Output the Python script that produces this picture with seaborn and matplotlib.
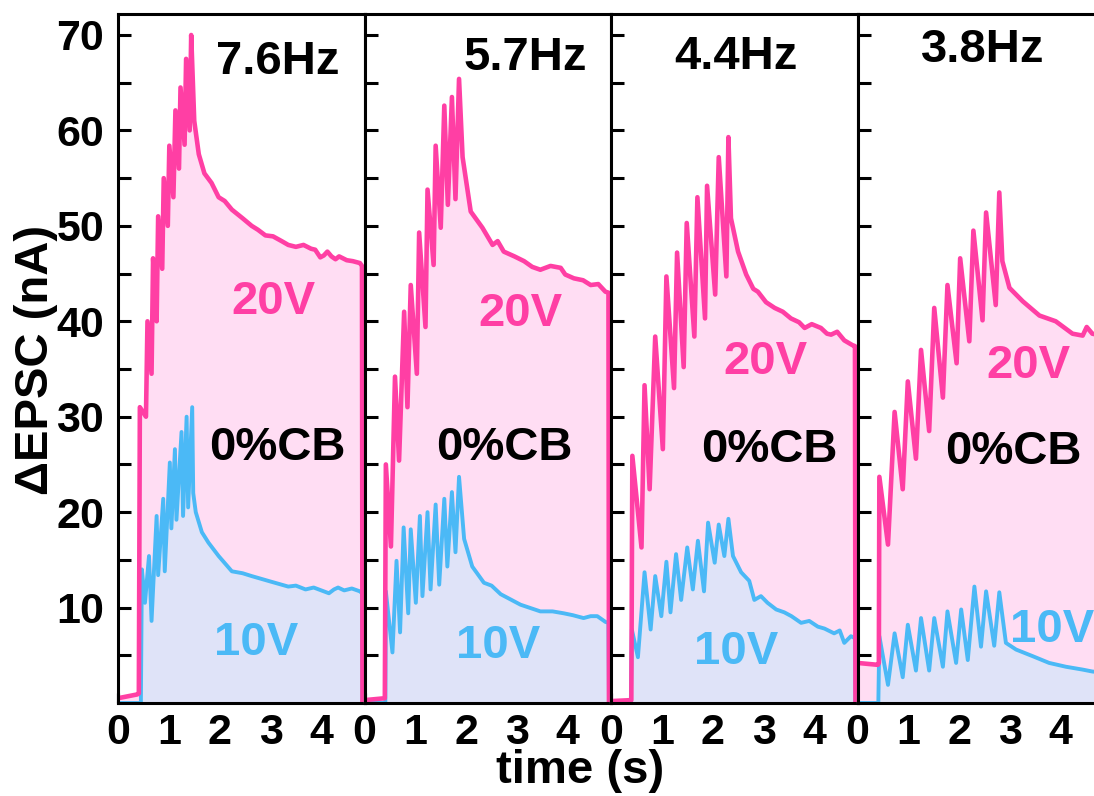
import matplotlib
matplotlib.use("Agg")
import matplotlib.pyplot as plt
import numpy as np
import pandas as pd
import seaborn as sns

# ---------------------------------------------------------------- data
freq_labels = ["7.6Hz", "5.7Hz", "4.4Hz", "3.8Hz"]
x_ticks = [0, 1, 2, 3, 4]
y_ticks = [10, 20, 30, 40, 50, 60, 70]

# 20 V gate pulses (nA vs s)
t_20v_76 = [0, 0.38, 0.41, 0.43, 0.55, 0.58, 0.66, 0.69, 0.76, 0.79, 0.87, 0.90, 0.98, 1.01,
            1.09, 1.13, 1.20, 1.23, 1.31, 1.34, 1.41, 1.44, 1.50, 1.59, 1.70, 1.84, 1.98,
            2.10, 2.24, 2.45, 2.63, 2.75, 2.90, 3.05, 3.22, 3.35, 3.50, 3.65, 3.80, 3.88,
            3.98, 4.05, 4.12, 4.20, 4.28, 4.35, 4.50, 4.62, 4.76, 4.80, 4.81]
i_20v_76 = [0.5, 0.9, 1.0, 31.0, 30.0, 40.0, 34.5, 46.6, 40.0, 51.0, 45.5, 55.0, 50.0, 58.4,
            53.0, 62.1, 56.0, 64.5, 58.5, 67.5, 60.0, 70.0, 61.0, 57.5, 55.5, 54.5, 53.0,
            52.6, 51.7, 50.8, 50.0, 49.6, 49.0, 48.9, 48.4, 48.0, 47.8, 48.0, 47.6, 47.5,
            46.7, 46.9, 47.3, 46.8, 46.5, 46.8, 46.4, 46.3, 46.1, 45.8, 0]

t_20v_57 = [0, 0.40, 0.42, 0.52, 0.60, 0.68, 0.78, 0.845, 0.91, 1.03, 1.075, 1.20, 1.24,
            1.36, 1.40, 1.50, 1.57, 1.64, 1.72, 1.79, 1.86, 1.93, 2.09, 2.32, 2.52, 2.62,
            2.74, 2.95, 3.14, 3.30, 3.46, 3.66, 3.86, 3.95, 4.12, 4.30, 4.45, 4.60, 4.74,
            4.80, 4.81]
i_20v_57 = [0.3, 0.5, 25.0, 16.4, 34.2, 25.4, 41.0, 31.0, 43.8, 34.5, 49.3, 39.4, 53.8,
            45.9, 58.4, 49.8, 62.6, 52.2, 63.5, 52.8, 65.4, 57.2, 51.5, 49.8, 48.0, 48.4,
            47.3, 46.8, 46.3, 45.7, 45.4, 45.8, 45.6, 44.9, 44.5, 44.3, 43.8, 43.9, 43.1,
            43.0, 0]

t_20v_44 = [0, 0.40, 0.42, 0.60, 0.66, 0.76, 0.87, 1.02, 1.09, 1.24, 1.30, 1.43, 1.49,
            1.64, 1.70, 1.85, 1.89, 2.05, 2.12, 2.27, 2.31, 2.36, 2.50, 2.66, 2.80, 2.89,
            3.05, 3.22, 3.38, 3.54, 3.70, 3.81, 3.95, 4.13, 4.25, 4.33, 4.45, 4.59, 4.75,
            4.80, 4.81]
i_20v_44 = [0.2, 0.3, 25.9, 16.3, 33.3, 22.4, 38.4, 26.6, 44.7, 33.0, 47.2, 35.2, 50.3,
            38.4, 53.0, 40.3, 54.2, 42.8, 57.2, 44.7, 59.3, 50.8, 47.3, 44.9, 43.4, 43.1,
            42.0, 41.4, 41.0, 40.3, 39.9, 39.3, 39.7, 39.3, 38.7, 38.6, 38.9, 38.0, 37.5,
            37.4, 0]

t_20v_38 = [0, 0.40, 0.42, 0.43, 0.60, 0.73, 0.89, 0.99, 1.15, 1.25, 1.41, 1.51, 1.68,
            1.77, 1.95, 2.02, 2.20, 2.28, 2.46, 2.53, 2.72, 2.79, 2.85, 2.99, 3.25, 3.58,
            3.90, 4.23, 4.43, 4.51, 4.62, 4.80, 4.81]
i_20v_38 = [4.2, 4.0, 4.2, 23.7, 16.6, 30.5, 22.4, 33.7, 25.6, 37.0, 28.5, 41.4, 32.0,
            43.8, 35.6, 46.6, 37.9, 49.5, 40.1, 51.4, 41.7, 53.5, 46.3, 43.5, 42.1, 40.6,
            40.0, 38.7, 38.5, 39.4, 38.7, 38.5, 0]

# 10 V gate pulses (nA vs s)
t_10v_76 = [0, 0.45, 0.47, 0.53, 0.61, 0.66, 0.76, 0.79, 0.89, 0.92, 1.02, 1.05, 1.12,
            1.15, 1.25, 1.28, 1.35, 1.38, 1.46, 1.48, 1.53, 1.65, 1.78, 1.98, 2.24, 2.45,
            2.63, 3.02, 3.35, 3.50, 3.69, 3.85, 4.00, 4.15, 4.25, 4.33, 4.45, 4.60, 4.76,
            4.80, 4.81]
i_10v_76 = [0, 0, 14.0, 10.5, 15.4, 8.6, 19.6, 13.4, 21.4, 13.8, 25.2, 18.3, 26.6,
            19.2, 28.4, 19.6, 30.0, 20.5, 31.0, 22.0, 20.0, 17.9, 16.8, 15.4, 13.8, 13.6,
            13.3, 12.7, 12.2, 12.3, 11.9, 12.1, 11.8, 11.5, 11.9, 12.1, 11.8, 12.0, 11.7,
            11.5, 0]

t_10v_57 = [0, 0.41, 0.42, 0.55, 0.63, 0.70, 0.77, 0.86, 0.91, 1.01, 1.09, 1.14, 1.24,
            1.30, 1.40, 1.47, 1.57, 1.63, 1.72, 1.79, 1.86, 1.96, 2.12, 2.35, 2.50, 2.68,
            3.07, 3.46, 3.70, 3.92, 4.10, 4.31, 4.45, 4.58, 4.74, 4.80, 4.81]
i_10v_57 = [0, 0, 11.7, 5.3, 14.9, 7.4, 18.4, 9.4, 18.2, 10.5, 19.6, 11.2, 20.0,
            11.9, 20.8, 12.4, 21.4, 14.3, 22.1, 15.8, 23.7, 17.2, 14.3, 12.6, 12.3, 11.4,
            10.3, 9.6, 9.6, 9.4, 9.2, 8.9, 9.1, 9.1, 8.5, 8.4, 0]

t_10v_44 = [0, 0.39, 0.41, 0.53, 0.66, 0.78, 0.87, 0.99, 1.09, 1.17, 1.28, 1.38, 1.50,
            1.61, 1.71, 1.83, 1.91, 2.04, 2.12, 2.23, 2.31, 2.40, 2.56, 2.72, 2.82, 2.95,
            3.08, 3.25, 3.41, 3.55, 3.74, 3.90, 4.07, 4.20, 4.39, 4.50, 4.59, 4.72, 4.80,
            4.81]
i_10v_44 = [0, 0, 7.7, 4.8, 13.7, 7.7, 13.3, 9.1, 14.8, 9.5, 15.6, 10.8, 16.3,
            11.9, 17.0, 11.7, 18.9, 14.7, 18.7, 15.4, 19.3, 15.4, 13.7, 12.8, 10.8, 11.2,
            10.5, 9.8, 9.5, 9.1, 8.4, 8.6, 8.0, 7.8, 7.3, 7.6, 6.3, 7.0, 6.8, 0]

t_10v_38 = [0, 0.41, 0.43, 0.60, 0.73, 0.89, 0.99, 1.15, 1.25, 1.41, 1.51, 1.68, 1.77,
            1.94, 2.04, 2.17, 2.30, 2.43, 2.53, 2.69, 2.79, 2.92, 3.12, 3.45, 3.77, 4.10,
            4.43, 4.62, 4.80, 4.81]
i_10v_38 = [0, 0, 7.0, 1.9, 7.3, 2.7, 8.2, 3.4, 8.9, 3.4, 8.9, 3.8, 9.6,
            4.2, 9.8, 4.5, 12.2, 5.9, 11.7, 6.0, 11.6, 6.3, 5.6, 4.9, 4.2, 3.8,
            3.5, 3.3, 3.2, 0]

t_20v = [t_20v_76, t_20v_57, t_20v_44, t_20v_38]
i_20v = [i_20v_76, i_20v_57, i_20v_44, i_20v_38]
t_10v = [t_10v_76, t_10v_57, t_10v_44, t_10v_38]
i_10v = [i_10v_76, i_10v_57, i_10v_44, i_10v_38]

# ---------------------------------------------------------------- style
sns.set_theme(style="ticks")
plt.rcParams["font.family"] = ["Liberation Sans", "DejaVu Sans"]
plt.rcParams["font.weight"] = "bold"
plt.rcParams["axes.linewidth"] = 2.2
plt.rcParams["text.color"] = "black"
plt.rcParams["axes.labelcolor"] = "black"
plt.rcParams["xtick.color"] = "black"
plt.rcParams["ytick.color"] = "black"

PINK = "#FF3FA4"
PINK_FILL = "#FFDDF3"
BLUE = "#4BB9F6"
BLUE_FILL = "#DFE3F8"
TICK_GRAY = "#9B9BAA"

TICK_FS = 31
NOTE_FS = 34
LABEL_FS = 34

W, H = 1094, 796
fig = plt.figure(figsize=(W / 100, H / 100), dpi=100)

panel_left = [118, 364.5, 611, 857.5]
panel_w = 246.5
bottom_px, top_px = 703, 14

# text placement inside each panel (axes fraction)
freq_pos = [(0.648, 0.930), (0.652, 0.936), (0.506, 0.938), (0.506, 0.948)]
v20_pos = [(0.632, 0.582), (0.632, 0.565), (0.628, 0.495), (0.692, 0.489)]
cb_pos = [(0.648, 0.370), (0.567, 0.370), (0.644, 0.367), (0.632, 0.364)]
v10_pos = [(0.559, 0.087), (0.543, 0.083), (0.506, 0.074), (0.789, 0.106)]

for k in range(4):
    ax = fig.add_axes([panel_left[k] / W, 1 - bottom_px / H,
                       panel_w / W, (bottom_px - top_px) / H])
    ax.set_facecolor("white")

    ax.fill_between(t_20v[k], i_20v[k], 0, color=PINK_FILL, lw=0, zorder=1)
    ax.fill_between(t_10v[k], i_10v[k], 0, color=BLUE_FILL, lw=0, zorder=1.1)

    df20 = pd.DataFrame({"time": t_20v[k], "EPSC": i_20v[k]})
    df10 = pd.DataFrame({"time": t_10v[k], "EPSC": i_10v[k]})
    sns.lineplot(data=df20, x="time", y="EPSC", ax=ax, color=PINK, lw=3.3,
                 estimator=None, sort=False, zorder=2.2)
    sns.lineplot(data=df10, x="time", y="EPSC", ax=ax, color=BLUE, lw=2.8,
                 estimator=None, sort=False, zorder=2.1)

    ax.set_xlim(0, 4.85)
    ax.set_ylim(0, 72.2)
    ax.set_xlabel("")
    ax.set_ylabel("")

    ax.set_xticks(x_ticks)
    ax.set_xticklabels([str(v) for v in x_ticks], fontsize=TICK_FS, fontweight="bold",
                       color="black")
    ax.set_xticks([v + 0.5 for v in x_ticks], minor=True)
    ax.tick_params(axis="x", which="major", direction="in", length=7, width=2.4,
                   color=TICK_GRAY, labelcolor="black", pad=7)
    ax.tick_params(axis="x", which="minor", direction="in", length=3, width=2.4,
                   color=TICK_GRAY)

    ax.set_yticks(y_ticks)
    ax.set_yticks([v - 5 for v in y_ticks], minor=True)
    ax.tick_params(axis="y", which="both", direction="in", length=9, width=2.2,
                   color="black", labelcolor="black", left=True, right=False)
    if k == 0:
        ax.set_yticklabels([str(v) for v in y_ticks], fontsize=TICK_FS, fontweight="bold",
                           color="black")
        ax.tick_params(axis="y", which="major", pad=10)
    else:
        ax.tick_params(axis="y", labelleft=False)

    for sp in ax.spines.values():
        sp.set_visible(True)
        sp.set_color("black")
        sp.set_linewidth(2.2)
        sp.set_zorder(3)

    ax.text(*freq_pos[k], freq_labels[k], transform=ax.transAxes, ha="center",
            va="center", fontsize=NOTE_FS, fontweight="bold", color="black")
    ax.text(*v20_pos[k], "20V", transform=ax.transAxes, ha="center",
            va="center", fontsize=NOTE_FS, fontweight="bold", color=PINK)
    ax.text(*cb_pos[k], "0%CB", transform=ax.transAxes, ha="center",
            va="center", fontsize=NOTE_FS, fontweight="bold", color="black")
    ax.text(*v10_pos[k], "10V", transform=ax.transAxes, ha="center",
            va="center", fontsize=NOTE_FS, fontweight="bold", color=BLUE)

fig.text(36 / W, 1 - 360 / H, "ΔEPSC (nA)", rotation=90, ha="center", va="center",
         fontsize=LABEL_FS, fontweight="bold", color="black")
fig.text(580 / W, 1 - 771 / H, "time (s)", ha="center", va="center",
         fontsize=LABEL_FS, fontweight="bold", color="black")

fig.savefig("out.png", dpi=100, facecolor="white")
